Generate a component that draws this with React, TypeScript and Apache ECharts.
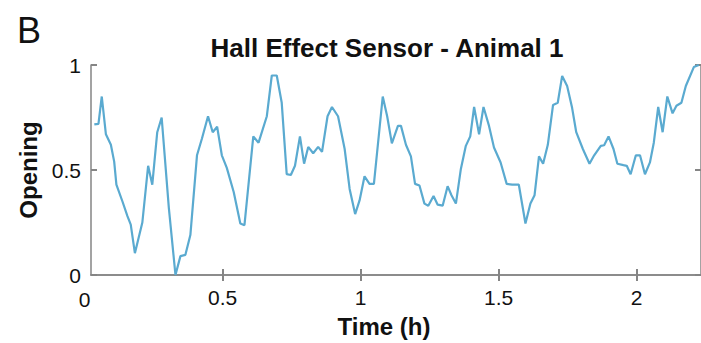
import React, { useEffect, useRef } from "react";
import * as echarts from "echarts";

const timeHours = [
  0.035, 0.05, 0.062, 0.077, 0.095, 0.107, 0.115, 0.137, 0.155, 0.167, 0.182, 0.209, 0.23, 0.245, 0.263, 0.279,
  0.305, 0.329, 0.347, 0.365, 0.383, 0.407, 0.425, 0.447, 0.464, 0.48, 0.497, 0.515, 0.54, 0.564, 0.579, 0.611,
  0.63, 0.66, 0.678, 0.696, 0.714, 0.732, 0.747, 0.762, 0.78, 0.795, 0.81, 0.828, 0.846, 0.86, 0.88, 0.896,
  0.918, 0.942, 0.96, 0.98, 0.996, 1.014, 1.032, 1.048, 1.08, 1.096, 1.113, 1.135, 1.146, 1.164, 1.182, 1.197,
  1.213, 1.231, 1.245, 1.264, 1.279, 1.297, 1.315, 1.329, 1.345, 1.363, 1.381, 1.397, 1.411, 1.429, 1.445, 1.465,
  1.483, 1.507, 1.529, 1.549, 1.573, 1.597, 1.615, 1.63, 1.646, 1.661, 1.678, 1.697, 1.714, 1.73, 1.748, 1.766,
  1.781, 1.805, 1.829, 1.846, 1.87, 1.882, 1.898, 1.916, 1.93, 1.952, 1.964, 1.978, 1.997, 2.012, 2.03, 2.048,
  2.062, 2.078, 2.094, 2.111, 2.13, 2.144, 2.162, 2.178, 2.207, 2.225,
];

const opening = [
  0.717, 0.72, 0.85, 0.67, 0.62, 0.54, 0.43, 0.35, 0.28, 0.24, 0.104, 0.25, 0.52, 0.43, 0.68, 0.75,
  0.32, 0.0, 0.09, 0.096, 0.19, 0.57, 0.65, 0.756, 0.68, 0.706, 0.57, 0.51, 0.395, 0.245, 0.237, 0.66,
  0.63, 0.756, 0.95, 0.95, 0.82, 0.48, 0.476, 0.52, 0.66, 0.53, 0.61, 0.58, 0.61, 0.586, 0.756, 0.8,
  0.756, 0.6, 0.41, 0.29, 0.355, 0.47, 0.434, 0.434, 0.85, 0.756, 0.627, 0.71, 0.71, 0.62, 0.565, 0.434,
  0.426, 0.34, 0.33, 0.376, 0.335, 0.33, 0.423, 0.38, 0.34, 0.505, 0.615, 0.66, 0.8, 0.67, 0.8, 0.71,
  0.607, 0.536, 0.434, 0.43, 0.43, 0.245, 0.34, 0.38, 0.565, 0.53, 0.62, 0.81, 0.82, 0.948, 0.9, 0.796,
  0.68, 0.6, 0.53, 0.57, 0.615, 0.618, 0.66, 0.6, 0.53, 0.523, 0.52, 0.48, 0.57, 0.57, 0.48, 0.536,
  0.63, 0.8, 0.68, 0.85, 0.77, 0.806, 0.82, 0.9, 0.99, 1.0,
];

const xTicks = [0, 0.5, 1, 1.5, 2];
const yTicks = [0, 0.5, 1];
const xMin = 0.023;
const xMax = 2.233;

const panelLetter = "B";
const chartTitle = "Hall Effect Sensor - Animal 1";
const xName = "Time (h)";
const yName = "Opening";

const FONT = "'Liberation Sans', Arial, sans-serif";
const AXIS_GRAY = "#858585";

export default function App() {
  const ref = useRef<HTMLDivElement>(null);
  useEffect(() => {
    if (!ref.current) return;
    const chart = echarts.init(ref.current, undefined, { renderer: "svg" });
    const inRange = xTicks.filter((v) => v >= xMin && v <= xMax);
    const tickCommon = { show: true, inside: true, length: 6, lineStyle: { color: AXIS_GRAY, width: 2 } };
    const lineCommon = { show: true, lineStyle: { color: AXIS_GRAY, width: 1.5 } };
    const letter = {
      type: "text",
      left: 17,
      top: 12,
      style: { text: panelLetter, fontFamily: FONT, fontSize: 36, fill: "#111" },
    };
    chart.setOption({
      animation: false,
      backgroundColor: "#ffffff",
      title: {
        text: chartTitle,
        left: 382,
        top: 30,
        textAlign: "center",
        textStyle: { fontFamily: FONT, fontWeight: "bold", fontSize: 26, color: "#111" },
      },
      grid: { left: 91, top: 65, right: -2, bottom: 66, containLabel: false },
      xAxis: [
        {
          type: "value",
          min: xMin,
          max: xMax,
          position: "bottom",
          axisLine: lineCommon,
          axisTick: { ...tickCommon, customValues: inRange },
          axisLabel: {
            customValues: inRange,
            margin: 12,
            fontFamily: FONT,
            fontSize: 21,
            color: "#111",
          },
          splitLine: { show: false },
          name: xName,
          nameLocation: "middle",
          nameGap: 39,
          nameTextStyle: {
            fontFamily: FONT,
            fontWeight: "bold",
            fontSize: 24,
            color: "#111",
            padding: [0, 24, 0, 0],
          },
        },
        {
          type: "value",
          min: xMin,
          max: xMax,
          position: "top",
          axisLine: lineCommon,
          axisTick: { ...tickCommon, customValues: inRange },
          axisLabel: { show: false },
          splitLine: { show: false },
        },
      ],
      yAxis: [
        {
          type: "value",
          min: yTicks[0],
          max: yTicks[yTicks.length - 1],
          interval: 0.5,
          position: "left",
          axisLine: lineCommon,
          axisTick: tickCommon,
          axisLabel: {
            margin: 10,
            fontFamily: FONT,
            fontSize: 21,
            color: "#111",
            formatter: (v: number) => String(v),
          },
          splitLine: { show: false },
          name: yName,
          nameLocation: "middle",
          nameGap: 50,
          nameTextStyle: { fontFamily: FONT, fontWeight: "bold", fontSize: 24, color: "#111" },
        },
        {
          type: "value",
          min: yTicks[0],
          max: yTicks[yTicks.length - 1],
          interval: 0.5,
          position: "right",
          axisLine: lineCommon,
          axisTick: tickCommon,
          axisLabel: { show: false },
          splitLine: { show: false },
        },
      ],
      series: [
        {
          type: "line",
          data: timeHours.map((t, i) => [t, opening[i]]),
          showSymbol: false,
          symbol: "none",
          clip: false,
          lineStyle: { color: "#5aaad0", width: 2.2 },
        },
      ],
      graphic: [letter],
    });
    const outside = xTicks.filter((v) => v < xMin || v > xMax);
    const extra = outside.map((v) => {
      const px = chart.convertToPixel({ xAxisIndex: 0 }, v) as number;
      return {
        type: "text",
        x: px,
        y: 277 + 12,
        style: {
          text: String(v),
          fontFamily: FONT,
          fontSize: 21,
          fill: "#111",
          textAlign: "center",
          textVerticalAlign: "top",
        },
      };
    });
    chart.setOption({ graphic: [letter, ...extra] });
    return () => chart.dispose();
  }, []);
  return <div ref={ref} style={{ position: "absolute", left: 0, top: 0, width: 701, height: 343 }} />;
}
